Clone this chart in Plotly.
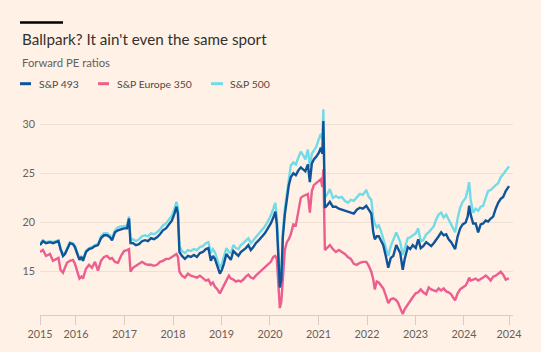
import pandas as pd
import plotly.graph_objects as go

# Dates as fractional years
years = [
 2015.258, 2015.320, 2015.382, 2015.464, 2015.526, 2015.588, 2015.639, 2015.681, 2015.732, 2015.773,
 2015.815, 2015.876, 2015.938, 2015.979, 2016.021, 2016.072, 2016.113, 2016.144, 2016.206, 2016.268,
 2016.330, 2016.391, 2016.453, 2016.515, 2016.577, 2016.639, 2016.700, 2016.742, 2016.803, 2016.865,
 2016.927, 2016.989, 2017.051, 2017.092, 2017.123, 2017.174, 2017.236, 2017.298, 2017.360, 2017.422,
 2017.483, 2017.545, 2017.607, 2017.669, 2017.731, 2017.792, 2017.854, 2017.916, 2017.978, 2018.029,
 2018.071, 2018.101, 2018.132, 2018.184, 2018.246, 2018.307, 2018.369, 2018.431, 2018.493, 2018.555,
 2018.616, 2018.678, 2018.730, 2018.781, 2018.822, 2018.864, 2018.915, 2018.967, 2019.008, 2019.049,
 2019.101, 2019.152, 2019.193, 2019.245, 2019.296, 2019.348, 2019.399, 2019.451, 2019.502, 2019.554,
 2019.605, 2019.657, 2019.708, 2019.770, 2019.832, 2019.894, 2019.956, 2020.017, 2020.069, 2020.110,
 2020.141, 2020.172, 2020.203, 2020.234, 2020.265, 2020.306, 2020.347, 2020.388, 2020.429, 2020.481,
 2020.532, 2020.584, 2020.635, 2020.687, 2020.728, 2020.780, 2020.821, 2020.862, 2020.903, 2020.955,
 2021.006, 2021.047, 2021.078, 2021.099, 2021.130, 2021.171, 2021.233, 2021.295, 2021.356, 2021.418,
 2021.480, 2021.542, 2021.604, 2021.665, 2021.727, 2021.789, 2021.851, 2021.913, 2021.985, 2022.036,
 2022.088, 2022.129, 2022.160, 2022.201, 2022.242, 2022.284, 2022.335, 2022.387, 2022.438, 2022.490,
 2022.541, 2022.603, 2022.644, 2022.685, 2022.737, 2022.778, 2022.840, 2022.891, 2022.943, 2023.005,
 2023.056, 2023.108, 2023.159, 2023.221, 2023.272, 2023.324, 2023.375, 2023.427, 2023.478, 2023.530,
 2023.581, 2023.633, 2023.684, 2023.736, 2023.787, 2023.818, 2023.870, 2023.921, 2023.973, 2024.035,
 2024.076, 2024.107, 2024.138, 2024.189, 2024.241, 2024.292, 2024.344, 2024.395, 2024.447, 2024.498,
 2024.550, 2024.601, 2024.653, 2024.704, 2024.756, 2024.807, 2024.859, 2024.900, 2024.927,
]

sp493 = [
 17.7, 18.1, 17.9, 18.0, 17.9, 18.0, 18.1, 17.3, 16.6, 16.8,
 17.3, 17.9, 17.8, 17.5, 16.9, 16.2, 16.5, 16.1, 17.0, 17.3,
 17.4, 17.6, 17.7, 18.4, 18.7, 18.7, 18.5, 18.2, 19.0, 19.2,
 19.3, 19.4, 19.4, 20.4, 17.9, 17.9, 17.7, 17.8, 18.1, 18.2,
 18.1, 18.4, 18.3, 18.5, 18.8, 19.2, 19.4, 19.8, 20.2, 20.9,
 21.6, 20.9, 17.0, 16.6, 16.3, 16.6, 16.5, 16.7, 16.5, 16.9,
 17.0, 17.3, 17.4, 16.1, 16.6, 16.3, 15.6, 14.8, 15.2, 15.8,
 16.8, 16.4, 16.2, 17.1, 16.8, 16.6, 17.0, 17.2, 17.4, 17.7,
 17.2, 17.5, 17.9, 18.2, 18.5, 18.9, 19.4, 19.9, 20.5, 21.1,
 19.8, 16.5, 13.4, 14.2, 18.5, 20.8, 22.2, 23.8, 24.6, 25.0,
 24.8, 25.3, 25.6, 25.4, 25.2, 25.9, 24.1, 26.0, 26.4, 26.7,
 27.1, 27.6, 27.0, 30.3, 21.5, 21.7, 22.1, 21.6, 21.6, 21.4,
 21.3, 21.2, 21.1, 21.0, 20.9, 21.3, 21.5, 21.4, 21.7, 21.3,
 20.9, 19.0, 18.3, 18.6, 18.6, 18.2, 17.7, 16.6, 15.4, 16.4,
 16.6, 17.7, 17.3, 16.9, 15.2, 16.3, 17.5, 17.3, 17.7, 17.4,
 18.3, 17.4, 17.6, 18.0, 17.8, 17.6, 17.9, 18.2, 18.6, 19.0,
 18.7, 18.8, 18.3, 18.0, 17.6, 17.3, 18.6, 19.4, 19.8, 20.0,
 20.6, 21.7, 20.8, 19.9, 19.9, 19.0, 19.8, 19.9, 20.2, 20.1,
 20.4, 20.6, 21.4, 22.0, 22.4, 22.6, 23.2, 23.5, 23.7,
]

europe350 = [
 17.0, 17.2, 16.6, 16.8, 16.1, 16.3, 16.4, 15.2, 14.9, 15.4,
 15.9, 16.1, 16.2, 15.8, 15.2, 14.3, 14.5, 14.3, 15.3, 15.7,
 15.4, 16.0, 15.1, 16.1, 16.5, 16.6, 16.3, 16.4, 16.0, 15.9,
 16.6, 17.1, 17.2, 17.3, 15.0, 15.4, 15.6, 15.8, 16.0, 15.8,
 15.7, 15.7, 15.6, 15.7, 16.0, 16.1, 16.3, 16.3, 16.5, 16.6,
 16.8, 16.5, 15.0, 14.6, 14.4, 14.8, 14.6, 14.5, 14.4, 14.6,
 14.3, 14.1, 14.2, 13.7, 13.9, 13.5, 13.2, 12.8, 13.2, 13.6,
 14.1, 14.6, 14.3, 14.2, 14.0, 14.1, 14.0, 14.2, 14.5, 14.7,
 14.4, 14.3, 14.6, 14.9, 15.1, 15.4, 15.7, 16.0, 16.5, 16.6,
 16.3, 13.4, 11.3, 12.0, 14.8, 17.2, 18.0, 18.3, 18.8, 19.8,
 19.7, 21.0, 22.5, 22.7, 22.8, 22.9, 21.0, 23.2, 23.8, 24.0,
 24.2, 24.4, 23.6, 25.4, 17.2, 17.4, 17.7, 17.3, 17.0, 17.2,
 17.0, 16.8, 16.5, 16.3, 15.8, 15.7, 15.9, 16.0, 16.0, 15.6,
 15.0, 14.2, 13.2, 14.0, 13.9, 13.6, 13.3, 12.6, 11.8, 12.2,
 12.3, 12.1, 11.8, 11.3, 10.7, 11.2, 11.7, 12.1, 12.4, 12.8,
 12.9, 13.2, 12.9, 12.7, 13.4, 13.2, 13.1, 13.0, 13.3, 13.1,
 13.3, 13.0, 12.9, 12.7, 12.3, 12.1, 12.8, 13.2, 13.4, 13.6,
 14.0, 14.4, 14.1, 14.2, 14.3, 14.1, 14.3, 14.4, 14.6, 14.4,
 14.1, 14.5, 14.6, 14.8, 15.0, 14.7, 14.2, 14.3, 14.3,
]

sp500 = [
 17.9, 18.2, 18.0, 18.1, 18.0, 18.1, 18.2, 17.4, 16.8, 16.9,
 17.4, 18.0, 17.9, 17.6, 17.0, 16.3, 16.6, 16.2, 17.1, 17.4,
 17.5, 17.7, 17.8, 18.6, 18.9, 18.9, 18.7, 18.4, 19.2, 19.5,
 19.6, 19.6, 19.7, 20.6, 18.2, 18.3, 18.1, 18.3, 18.6, 18.7,
 18.6, 18.9, 18.8, 19.0, 19.3, 19.7, 19.9, 20.3, 20.7, 21.4,
 22.1, 21.5, 17.6, 17.1, 16.9, 17.2, 17.1, 17.3, 17.2, 17.5,
 17.6, 17.9, 18.0, 16.9, 17.3, 17.0, 16.2, 15.4, 15.8, 16.5,
 17.4, 17.0, 16.9, 17.7, 17.4, 17.3, 17.7, 17.9, 18.1, 18.4,
 17.9, 18.2, 18.6, 18.9, 19.2, 19.6, 20.1, 20.7, 21.4, 22.0,
 20.6, 17.2, 14.0, 14.8, 19.0, 21.4, 22.9, 24.6, 25.8, 26.1,
 25.9, 26.6, 27.2, 26.8, 26.4, 27.4, 25.7, 27.0, 27.3, 27.7,
 28.5, 29.0, 28.4, 31.5, 22.5, 22.8, 23.4, 22.5, 22.7, 22.5,
 22.6, 22.2, 22.0, 22.3, 22.2, 22.6, 22.9, 22.8, 23.3, 22.6,
 22.3, 20.5, 19.9, 19.5, 19.7, 19.2, 18.4, 17.4, 16.6, 17.6,
 18.3, 19.0, 18.5, 18.0, 16.7, 17.4, 18.4, 18.5, 18.7, 18.9,
 19.4, 18.1, 18.2, 18.8, 19.0, 19.3, 19.6, 20.3, 20.8, 21.0,
 20.5, 20.8, 20.3, 19.8, 19.3, 19.0, 20.4, 21.5, 22.1, 22.5,
 23.3, 24.1, 22.3, 21.0, 21.4, 21.2, 21.6, 21.7, 22.5, 23.2,
 23.3, 23.6, 23.8, 24.0, 24.6, 24.9, 25.3, 25.5, 25.7,
]

y_ticks = [15, 20, 25, 30]
colors = {"S&P 493": "#0f5499", "S&P Europe 350": "#eb5e8d", "S&P 500": "#72dbe8"}


def frac_to_date(y):
    yr = int(y)
    start = pd.Timestamp(year=yr, month=1, day=1)
    end = pd.Timestamp(year=yr + 1, month=1, day=1)
    return start + (end - start) * (y - yr)


dates = [frac_to_date(y) for y in years]

W, H = 541, 352
L, R, T, B = 40, 28, 104, 35
PW, PH = W - L - R, H - T - B


def px(x):
    return (x - L) / PW


def py(y):
    return (H - B - y) / PH


fig = go.Figure()
for name, vals in [("S&P 500", sp500), ("S&P Europe 350", europe350), ("S&P 493", sp493)]:
    fig.add_trace(go.Scatter(x=dates, y=vals, mode="lines", name=name,
                             line=dict(color=colors[name], width=2.4), showlegend=False))

tickvals = [dates[0]] + [pd.Timestamp(year=y, month=1, day=1) for y in range(2016, 2025)] + [dates[-1]]
ticktext = [str(t.year) for t in tickvals]

fig.update_layout(
    width=W, height=H,
    margin=dict(l=L, r=R, t=T, b=B, pad=0),
    paper_bgcolor="#fff1e5", plot_bgcolor="#fff1e5",
    font=dict(family="Lato", color="#66605c"),
    xaxis=dict(range=[dates[0], frac_to_date(2025.009)], tickvals=tickvals, ticktext=ticktext,
               showgrid=False, showline=True, linecolor="#d9ccc1", linewidth=1,
               ticks="outside", ticklen=9, tickcolor="#d9ccc1", tickwidth=1,
               tickfont=dict(size=10.8, color="#66605c"), zeroline=False),
    yaxis=dict(range=[10.6, 32.04], tickvals=y_ticks, showgrid=True, gridcolor="#f0e0d3",
               gridwidth=1, zeroline=False, showline=False, ticks="",
               tickfont=dict(size=10.8, color="#66605c"), ticklabelstandoff=4),
)

# Header bar
fig.add_shape(type="rect", xref="paper", yref="paper", x0=px(20), x1=px(63), y0=py(23), y1=py(20.5),
              fillcolor="#000000", line=dict(width=0))
# Title and subtitle
fig.add_annotation(xref="paper", yref="paper", x=px(20), y=py(38), xanchor="left", yanchor="middle",
                   text="Ballpark? It ain't even the same sport", showarrow=False,
                   font=dict(size=15.2, color="#33302e", family="Lato"))
fig.add_annotation(xref="paper", yref="paper", x=px(20), y=py(62), xanchor="left", yanchor="middle",
                   text="Forward PE ratios", showarrow=False,
                   font=dict(size=11.3, color="#66605c", family="Lato"))
# Legend
leg = [("S&P 493", 20, 31, 37), ("S&P Europe 350", 98, 109, 115), ("S&P 500", 211, 223, 228)]
for name, s0, s1, tx in leg:
    fig.add_shape(type="line", xref="paper", yref="paper", x0=px(s0), x1=px(s1), y0=py(83.5), y1=py(83.5),
                  line=dict(color=colors[name], width=3))
    fig.add_annotation(xref="paper", yref="paper", x=px(tx), y=py(83.5), xanchor="left", yanchor="middle",
                       text=name, showarrow=False, font=dict(size=10.4, color="#4d4845", family="Lato"))

fig.write_html("out.html")
